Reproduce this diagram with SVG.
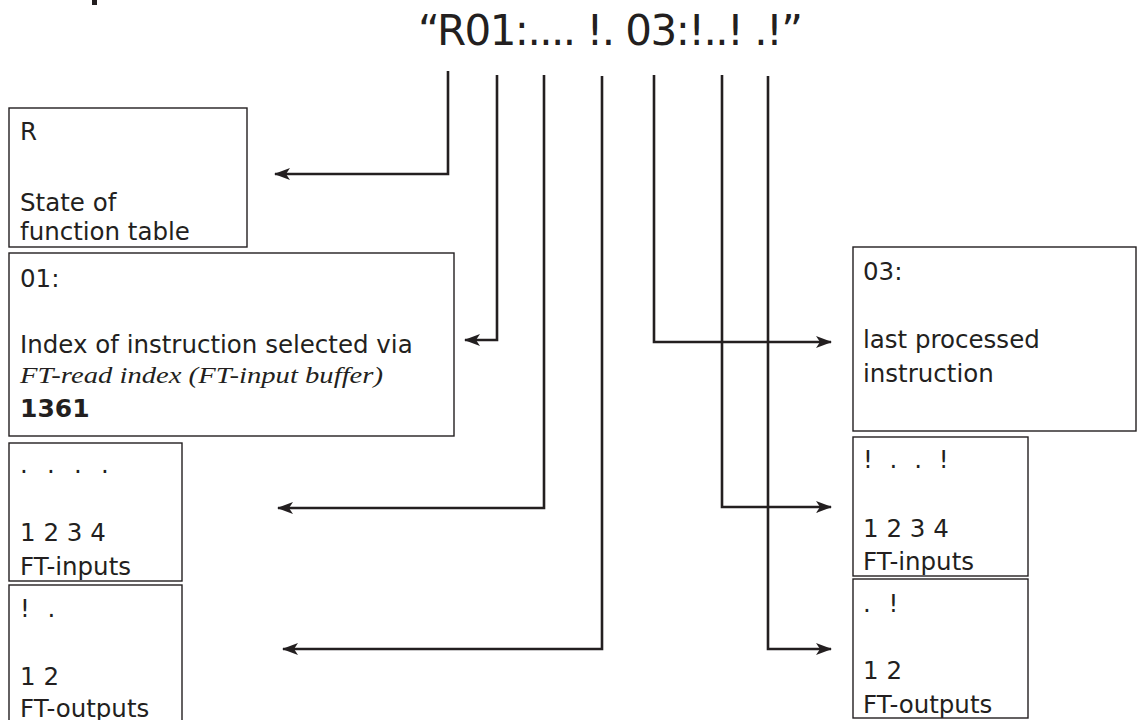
<svg xmlns="http://www.w3.org/2000/svg" width="1137" height="720" viewBox="0 0 1137 720">
  <style>
    .box { fill: #ffffff; stroke: #231f20; stroke-width: 1.4; }
    .t { font-family: "DejaVu Sans", "Liberation Sans", sans-serif; font-size: 24.5px; fill: #231f20; }
    .it { font-family: "Liberation Serif", "DejaVu Serif", serif; font-style: italic; font-size: 23px; fill: #231f20; }
    .b { font-family: "DejaVu Sans", "Liberation Sans", sans-serif; font-weight: bold; font-size: 25px; fill: #231f20; }
    .title { font-family: "DejaVu Sans", "Liberation Sans", sans-serif; font-size: 42px; fill: #231f20; }
    .conn { fill: none; stroke: #231f20; stroke-width: 2.6; }
  </style>
  <defs>
    <marker id="arr" viewBox="0 0 16 12" refX="15" refY="6" markerWidth="16" markerHeight="12" markerUnits="userSpaceOnUse" orient="auto">
      <path d="M0,0 L16,6 L0,12 L4,6 Z" fill="#231f20"/>
    </marker>
  </defs>
  <rect width="1137" height="720" fill="#ffffff"/>
  <rect x="92" y="0" width="5" height="5" fill="#231f20"/>

  <g id="title">
    <text class="title" x="418" y="45" textLength="385" lengthAdjust="spacing">“R01:.... !. 03:!..! .!”</text>
  </g>

  <g id="node-r">
    <rect class="box" x="9" y="108" width="238" height="139"/>
    <text class="t" x="20" y="140">R</text>
    <text class="t" x="20" y="211">State of</text>
    <text class="t" x="20" y="240">function table</text>
  </g>

  <g id="node-01">
    <rect class="box" x="9" y="253" width="445" height="183"/>
    <text class="t" x="20" y="287">01:</text>
    <text class="t" x="20" y="353">Index of instruction selected via</text>
    <text class="it" x="20" y="383" textLength="363" lengthAdjust="spacingAndGlyphs">FT-read  index (FT-input buffer)</text>
    <text class="b" x="20" y="417">1361</text>
  </g>

  <g id="node-left-inputs">
    <rect class="box" x="9" y="443" width="173" height="138"/>
    <text class="t" x="20" y="473" letter-spacing="5.7">. . . .</text>
    <text class="t" x="20" y="541">1 2 3 4</text>
    <text class="t" x="20" y="575">FT-inputs</text>
  </g>

  <g id="node-left-outputs">
    <rect class="box" x="9" y="585" width="173" height="160"/>
    <text class="t" x="20" y="617" letter-spacing="5">! .</text>
    <text class="t" x="20" y="685">1 2</text>
    <text class="t" x="20" y="717">FT-outputs</text>
  </g>

  <g id="node-03">
    <rect class="box" x="853" y="247" width="283" height="184"/>
    <text class="t" x="863" y="280">03:</text>
    <text class="t" x="863" y="348">last processed</text>
    <text class="t" x="863" y="382">instruction</text>
  </g>

  <g id="node-right-inputs">
    <rect class="box" x="853" y="437" width="175" height="139"/>
    <text class="t" x="863" y="468" letter-spacing="4.5">! . . !</text>
    <text class="t" x="863" y="537">1 2 3 4</text>
    <text class="t" x="863" y="570">FT-inputs</text>
  </g>

  <g id="node-right-outputs">
    <rect class="box" x="853" y="579" width="175" height="139"/>
    <text class="t" x="863" y="612" letter-spacing="5">. !</text>
    <text class="t" x="863" y="679">1 2</text>
    <text class="t" x="863" y="713">FT-outputs</text>
  </g>

  <g id="connectors">
    <path class="conn" d="M448,71 V174 H275" marker-end="url(#arr)"/>
    <path class="conn" d="M497,75 V340 H465" marker-end="url(#arr)"/>
    <path class="conn" d="M544,75 V508 H278" marker-end="url(#arr)"/>
    <path class="conn" d="M602,76 V649 H283" marker-end="url(#arr)"/>
    <path class="conn" d="M654,75 V342 H831" marker-end="url(#arr)"/>
    <path class="conn" d="M722,75 V507 H831" marker-end="url(#arr)"/>
    <path class="conn" d="M768,76 V649 H831" marker-end="url(#arr)"/>
  </g>
</svg>
